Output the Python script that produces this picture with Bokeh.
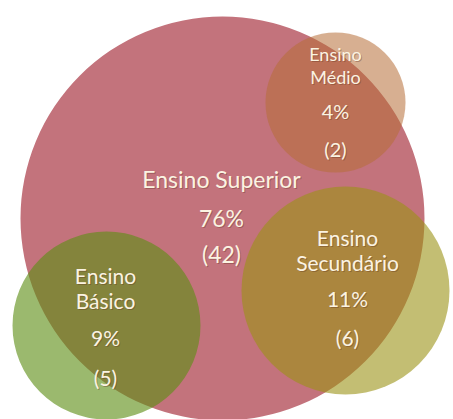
from bokeh.plotting import figure
from bokeh.models import Range1d, ColumnDataSource
from bokeh.core.properties import value
from bokeh.embed import file_html
from bokeh.resources import INLINE

# Data
categories = ["Ensino Superior", "Ensino Médio", "Ensino Secundário", "Ensino Básico"]
label_lines = [["Ensino Superior"], ["Ensino", "Médio"], ["Ensino", "Secundário"], ["Ensino", "Básico"]]
percents = [76, 4, 11, 9]
counts = [42, 2, 6, 5]

# Layout (diagram positions in page pixels, y downwards)
cx = [222, 335, 345, 106]
cy = [218, 102, 290, 325]
radius = [202, 70, 104, 94]
colors = ["#c3737c", "#b66d37", "#9b9316", "#5e8e15"]
alphas = [1.0, 0.55, 0.6, 0.62]
name_sizes = ["23px", "18px", "21px", "21px"]
num_sizes = ["23px", "20px", "21px", "21px"]
name_y = [[178], [53, 76], [237, 262], [275, 300]]
pct_y = [217, 110, 298, 337]
cnt_y = [253, 148, 337, 377]
text_x = [221, 335, 347, 105]

W, H = 453, 419
p = figure(width=W, height=H, output_backend="svg", toolbar_location=None,
           x_range=Range1d(0, W), y_range=Range1d(H, 0),
           min_border=0, outline_line_color=None)
p.axis.visible = False
p.grid.visible = False
p.background_fill_color = "white"
p.border_fill_color = "white"

for i in range(len(categories)):
    p.circle(x=[cx[i]], y=[cy[i]], radius=radius[i], fill_color=colors[i],
             fill_alpha=alphas[i], line_color=None)

tx, ty, tt, ts = [], [], [], []
for i in range(len(categories)):
    for line, yy in zip(label_lines[i], name_y[i]):
        tx.append(text_x[i]); ty.append(yy); tt.append(line); ts.append(name_sizes[i])
    tx.append(text_x[i]); ty.append(pct_y[i]); tt.append(f"{percents[i]}%"); ts.append(num_sizes[i])
    tx.append(text_x[i]); ty.append(cnt_y[i]); tt.append(f"({counts[i]})"); ts.append(num_sizes[i])

src = ColumnDataSource(dict(x=tx, y=ty, t=tt, s=ts))
p.text(x="x", y="y", text="t", source=src, text_font=value("Lato"), text_font_size="s",
       text_align="center", text_baseline="middle", text_color="#5a3020", text_alpha=0.35,
       x_offset=1, y_offset=1)
p.text(x="x", y="y", text="t", source=src, text_font=value("Lato"), text_font_size="s",
       text_align="center", text_baseline="middle", text_color="#fbf3e2")

open("out.html", "w").write(file_html(p, INLINE))
